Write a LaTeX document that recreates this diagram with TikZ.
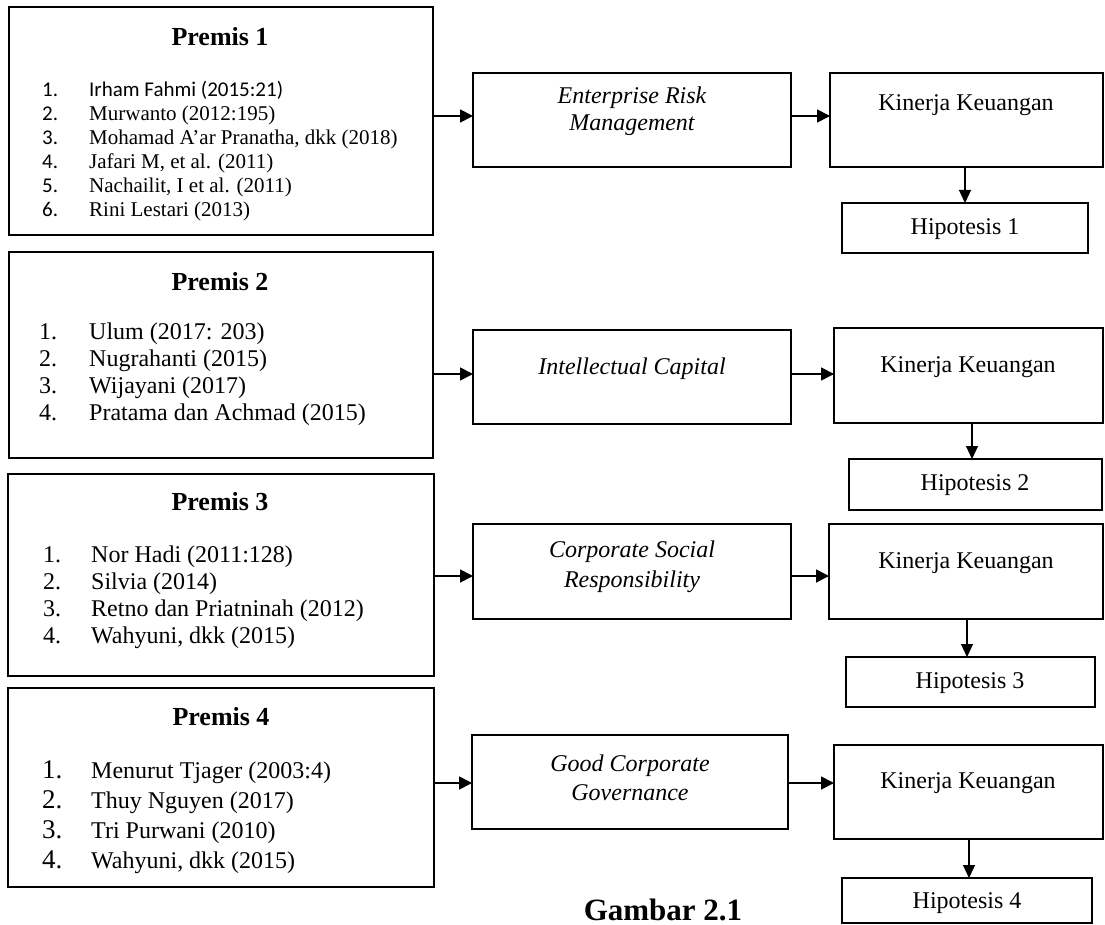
\documentclass[tikz,border=0pt]{standalone}
\usepackage{fontspec}
\setmainfont{Liberation Serif}
\newfontfamily\calibri{Carlito}
\usetikzlibrary{arrows.meta,positioning}

\begin{document}
\begin{tikzpicture}[x=1pt,y=-1pt,
box/.style={draw,line width=2pt,inner sep=0pt,outer sep=0pt},
lbl/.style={font=\fontsize{24}{28}\selectfont,inner sep=0pt,align=center},
ttl/.style={font=\fontsize{26}{30}\selectfont\bfseries,inner sep=0pt},
lst/.style={font=\fontsize{24}{27}\selectfont,inner sep=0pt,anchor=west},
arr/.style={line width=1.8pt,-{Triangle[length=13pt,width=13pt]}},
varr/.style={line width=1.2pt,-{Triangle[length=13pt,width=12pt]}}]
\useasboundingbox (0,0) rectangle (1105,925);

\coordinate[] (A1) at (0,116);
\coordinate[] (A2) at (0,374);
\coordinate[] (A3) at (0,576);
\coordinate[] (A4) at (0,783);
\coordinate[] (V1) at (965,0);
\coordinate[] (V2) at (972,0);
\coordinate[] (V3) at (967,0);
\coordinate[] (V4) at (969,0);

\node[box,minimum width=424pt,minimum height=228pt] (p1) at (221,121) {};
\node[box,minimum width=424pt,minimum height=206pt] (p2) at (221,355) {};
\node[box,minimum width=426pt,minimum height=202pt] (p3) at (221,575) {};
\node[box,minimum width=426pt,minimum height=199pt] (p4) at (221,787.5) {};

\node[box,minimum width=318pt,minimum height=94pt] (erm) at (632,120) {};
\node[box,minimum width=318pt,minimum height=94pt] (ic) at (632,377) {};
\node[box,minimum width=318pt,minimum height=95pt] (csr) at (632,571.5) {};
\node[box,minimum width=316pt,minimum height=94pt] (gcg) at (630,782) {};

\node[box,minimum width=273pt,minimum height=94pt] (kk1) at (966.5,120) {};
\node[box,minimum width=269pt,minimum height=95pt] (kk2) at (968.5,375.5) {};
\node[box,minimum width=274pt,minimum height=95pt] (kk3) at (966,571.5) {};
\node[box,minimum width=269pt,minimum height=94pt] (kk4) at (968.5,792) {};

\node[box,minimum width=246pt,minimum height=50pt] (h1) at (965,228) {};
\node[box,minimum width=253pt,minimum height=51pt] (h2) at (975.5,484.5) {};
\node[box,minimum width=249pt,minimum height=50pt] (h3) at (970.5,682) {};
\node[box,minimum width=250pt,minimum height=45pt] (h4) at (967,900.5) {};

\node[ttl] (p1tt) at (220,37) {Premis 1};
\node[ttl] (p2tt) at (220,282) {Premis 2};
\node[ttl] (p3tt) at (220,502) {Premis 3};
\node[ttl] (p4tt) at (221,717) {Premis 4};

\node[lst,font=\fontsize{21}{24}\selectfont] (p1l) at (42,152) {\begin{tabular}{@{}p{47pt}@{}l@{}}
{\calibri 1.} & {\calibri Irham Fahmi (2015:21)}\\
{\calibri 2.} & Murwanto (2012:195)\\
{\calibri 3.} & Mohamad A’ar Pranatha, dkk (2018)\\
{\calibri 4.} & Jafari M, et al. (2011)\\
{\calibri 5.} & Nachailit, I et al. (2011)\\
{\calibri 6.} & Rini Lestari (2013)
\end{tabular}};
\node[lst] (p2l) at (39,375) {\begin{tabular}{@{}p{50pt}@{}l@{}}
1. & Ulum (2017: 203)\\
2. & Nugrahanti (2015)\\
3. & Wijayani (2017)\\
4. & Pratama dan Achmad (2015)
\end{tabular}};
\node[lst] (p3l) at (43,597.5) {\begin{tabular}{@{}p{48pt}@{}l@{}}
1. & Nor Hadi (2011:128)\\
2. & Silvia (2014)\\
3. & Retno dan Priatninah (2012)\\
4. & Wahyuni, dkk (2015)
\end{tabular}};
\node[lst,font=\fontsize{24}{30}\selectfont] (p4l) at (42,817) {\begin{tabular}{@{}p{49pt}@{}l@{}}
{\fontsize{27}{30}\selectfont 1.} & Menurut Tjager (2003:4)\\
{\fontsize{27}{30}\selectfont 2.} & Thuy Nguyen (2017)\\
{\fontsize{27}{30}\selectfont 3.} & Tri Purwani (2010)\\
{\fontsize{27}{30}\selectfont 4.} & Wahyuni, dkk (2015)
\end{tabular}};

\node[lbl,font=\fontsize{24}{27}\selectfont\itshape] (ermt) at (632,111.5) {Enterprise Risk\\Management};
\node[lbl,font=\fontsize{24}{28}\selectfont\itshape] (ict) at (632,369) {Intellectual Capital};
\node[lbl,font=\fontsize{24}{30}\selectfont\itshape] (csrt) at (632,567) {Corporate Social\\Responsibility};
\node[lbl,font=\fontsize{24}{29}\selectfont\itshape] (gcgt) at (630,777.5) {Good Corporate\\Governance};

\node[lbl] (kk1t) at (966,105) {Kinerja Keuangan};
\node[lbl] (kk2t) at (968,367) {Kinerja Keuangan};
\node[lbl] (kk3t) at (966,563) {Kinerja Keuangan};
\node[lbl] (kk4t) at (968,783) {Kinerja Keuangan};

\node[lbl] (h1t) at (965,229) {Hipotesis 1};
\node[lbl] (h2t) at (975,485) {Hipotesis 2};
\node[lbl] (h3t) at (970,683) {Hipotesis 3};
\node[lbl] (h4t) at (967,903) {Hipotesis 4};

\node[inner sep=0pt,font=\fontsize{31}{34}\selectfont\bfseries] (gbr) at (663,910) {Gambar 2.1};

\draw[arr] (p1.east |- A1) -- (erm.west |- A1);
\draw[arr] (erm.east |- A1) -- (kk1.west |- A1);
\draw[varr] (kk1.south -| V1) -- (h1.north -| V1);

\draw[arr] (p2.east |- A2) -- (ic.west |- A2);
\draw[arr] (ic.east |- A2) -- (kk2.west |- A2);
\draw[varr] (kk2.south -| V2) -- (h2.north -| V2);

\draw[arr] (p3.east |- A3) -- (csr.west |- A3);
\draw[arr] (csr.east |- A3) -- (kk3.west |- A3);
\draw[varr] (kk3.south -| V3) -- (h3.north -| V3);

\draw[arr] (p4.east |- A4) -- (gcg.west |- A4);
\draw[arr] (gcg.east |- A4) -- (kk4.west |- A4);
\draw[varr] (kk4.south -| V4) -- (h4.north -| V4);

\end{tikzpicture}
\end{document}
